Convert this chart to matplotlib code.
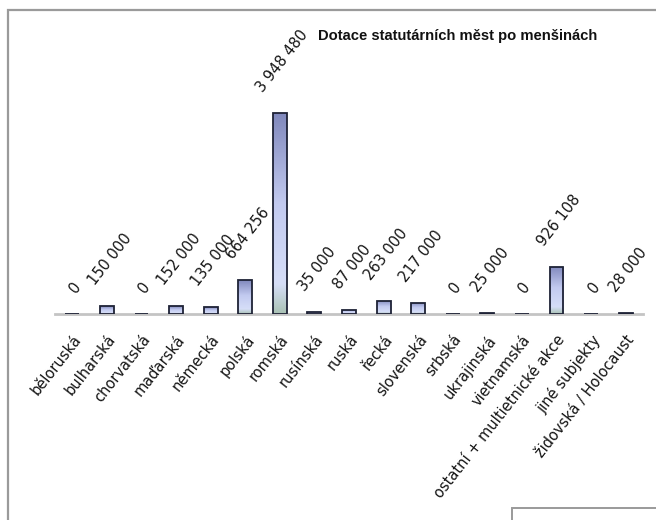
import matplotlib.pyplot as plt
import numpy as np
from matplotlib.colors import LinearSegmentedColormap
from matplotlib.patches import Rectangle

categories = ['běloruská', 'bulharská', 'chorvatská', 'maďarská', 'německá', 'polská',
              'romská', 'rusínská', 'ruská', 'řecká', 'slovenská', 'srbská', 'ukrajinská',
              'vietnamská', 'ostatní + multietnické akce', 'jiné subjekty',
              'židovská / Holocaust']
values = [0, 150000, 0, 152000, 135000, 664256, 3948480, 35000, 87000, 263000,
          217000, 0, 25000, 0, 926108, 0, 28000]
title = 'Dotace statutárních měst po menšinách'

def fmt(v):
    return f'{v:,}'.replace(',', ' ')

fig = plt.figure(figsize=(6.56, 5.2), dpi=100)
fig.patch.set_facecolor('white')

# outer frame of the chart object
fig.add_artist(Rectangle((8 / 656, -0.05), 1.0, 1 - 10 / 520 + 0.05, transform=fig.transFigure,
                         fill=False, edgecolor='#9a9a9a', lw=1.6))
fig.add_artist(Rectangle((512 / 656, -0.05), 1.0, 0.05 + 12 / 520, transform=fig.transFigure,
                         fill=False, edgecolor='#9a9a9a', lw=1.4))

ax = fig.add_axes([55 / 656, 1 - 314 / 520, 588 / 656, 254.5 / 520])
x = np.arange(len(categories))
ax.set_xlim(-0.5, len(categories) - 0.5)
ax.set_ylim(0, 5000000)

cmap = LinearSegmentedColormap.from_list('bar', [(0.0, '#a9c2b4'), (0.15, '#d6def8'),
                                                 (0.55, '#c2caf0'), (1.0, '#8088bc')])
grad = np.linspace(0, 1, 256).reshape(-1, 1)

bars = ax.bar(x, values, width=0.4, facecolor='none', edgecolor='#1e2236', lw=1.3, zorder=3)
for b in bars:
    if b.get_height() <= 0:
        continue
    x0, w, h = b.get_x(), b.get_width(), b.get_height()
    im = ax.imshow(grad, cmap=cmap, origin='lower', aspect='auto',
                   extent=(x0, x0 + w, 0, h), zorder=2)
    im.set_clip_path(b)

for xi, v in zip(x, values):
    ax.annotate(fmt(v), (xi, v), xytext=(2, 13), textcoords='offset points',
                rotation=52, ha='center', va='bottom', fontsize=10.5, color='#151515',
                annotation_clip=False)

ax.set_xticks(x)
ax.set_xticklabels(categories, rotation=52, ha='right', rotation_mode='anchor',
                   fontsize=10.5, color='#151515')
ax.tick_params(axis='x', length=0, pad=13)
ax.set_yticks([])
for s in ['top', 'left', 'right']:
    ax.spines[s].set_visible(False)
ax.spines['bottom'].set_color('#c4c4c4')
ax.spines['bottom'].set_linewidth(2)

fig.text(318 / 656, 1 - 36 / 520, title, fontsize=10.6, fontweight='bold',
         family=['Liberation Sans', 'DejaVu Sans'], ha='left', va='center',
         color='#111111')

fig.savefig('out.png', dpi=100)
